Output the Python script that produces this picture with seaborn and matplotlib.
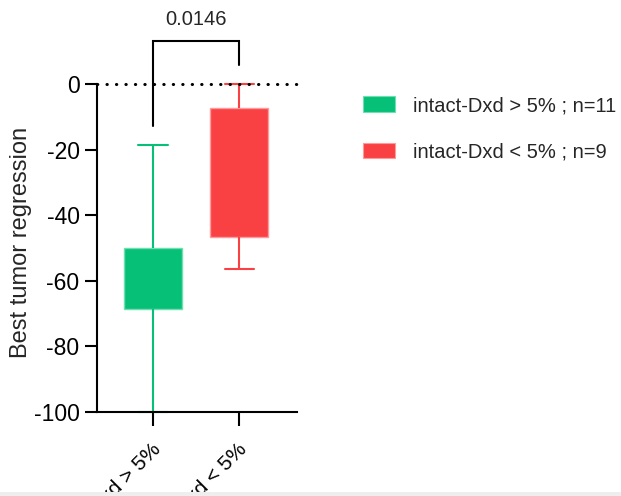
import matplotlib
matplotlib.use("Agg")
import matplotlib.pyplot as plt
import matplotlib.transforms as mtransforms
from matplotlib.patches import Patch, Rectangle
import numpy as np
import pandas as pd
import seaborn as sns

# Five-number summaries (min, Q1, median, Q3, max) of best tumor regression per group
groups = ["intact-Dxd > 5%", "intact-Dxd < 5%"]
high_summary = [-100.0, -68.7, -60.0, -50.1, -18.5]
low_summary = [-56.3, -46.6, -30.0, -7.4, 0.0]
legend_labels = ["intact-Dxd > 5% ; n=11", "intact-Dxd < 5% ; n=9"]
p_value = "0.0146"
y_ticks = [0, -20, -40, -60, -80, -100]

fills = ["#07C078", "#F94144"]
edges = ["#6EE0B0", "#FF9A9A"]

df = pd.DataFrame({
    "group": [groups[0]] * len(high_summary) + [groups[1]] * len(low_summary),
    "value": high_summary + low_summary,
})

sns.set_style("white")
plt.rcParams["font.family"] = ["Liberation Sans", "DejaVu Sans"]

fig = plt.figure(figsize=(6.21, 4.96), dpi=100)
ax = fig.add_axes([97 / 621, 1 - 412 / 496, 200 / 621, 328 / 496])

for g, fc, ec in zip(groups, fills, edges):
    sns.boxplot(
        data=df[df["group"] == g], x="group", y="value", order=groups,
        whis=(0, 100), width=0.675, color=fc, saturation=1, linewidth=1.5,
        linecolor=fc, fliersize=0,
        boxprops=dict(facecolor=fc, edgecolor=ec, linewidth=1.0),
        medianprops=dict(color=fc, linewidth=0),
        whiskerprops=dict(color=fc, linewidth=1.5, clip_on=False),
        capprops=dict(color=fc, linewidth=1.5, clip_on=False),
        ax=ax,
    )

ax.set_xlim(-0.651, 1.674)
ax.set_ylim(-100, 0)
ax.set_yticks(y_ticks)
ax.set_yticklabels([str(t) for t in y_ticks], fontsize=16.5)

# Zero reference line
ax.axhline(0, color="black", lw=2.2, linestyle=(0, (0.1, 3.0)),
           dash_capstyle="round", clip_on=False, zorder=5)

# Significance bracket
bracket_top = 13.1
ax.plot([0, 0, 1, 1], [-12.8, bracket_top, bracket_top, 5.8], color="black",
        lw=1.5, clip_on=False, solid_joinstyle="miter")
ax.text(0.5, 19.8, p_value, ha="center", va="center", fontsize=14.5,
        clip_on=False)

for side in ["top", "right"]:
    ax.spines[side].set_visible(False)
for side in ["left", "bottom"]:
    ax.spines[side].set_linewidth(1.5)
    ax.spines[side].set_color("black")

ax.tick_params(axis="y", length=8.6, width=1.5, color="black", pad=4,
               left=True, labelcolor="black")
ax.tick_params(axis="x", length=10, width=1.5, color="black", bottom=True,
               pad=15, labelcolor="black")

ax.set_xlabel("")
ax.set_ylabel("Best tumor regression", fontsize=17)
ax.yaxis.set_label_coords(-0.325, 0.517)

ax.set_xticks([0, 1])
ax.set_xticklabels(groups, rotation=45, ha="right", va="center",
                   rotation_mode="anchor", fontsize=15)
offset = mtransforms.ScaledTranslation(5 / 100, 0, fig.dpi_scale_trans)
for lbl in ax.get_xticklabels():
    lbl.set_transform(lbl.get_transform() + offset)

handles = [Patch(facecolor=fc, edgecolor=ec, linewidth=0.8)
           for fc, ec in zip(fills, edges)]
fig.legend(handles, legend_labels, loc="upper left",
           bbox_to_anchor=(355 / 621, 1 - 88 / 496), frameon=False,
           fontsize=14.5, handlelength=1.6, handleheight=0.8,
           handletextpad=0.9, labelspacing=1.35, borderaxespad=0)

# Thin grey strip along the lower edge
fig.patches.append(Rectangle((0, 0), 1, 4 / 496, transform=fig.transFigure,
                             facecolor="#EEEEEE", edgecolor="none", zorder=10))

fig.savefig("out.png", dpi=100)
